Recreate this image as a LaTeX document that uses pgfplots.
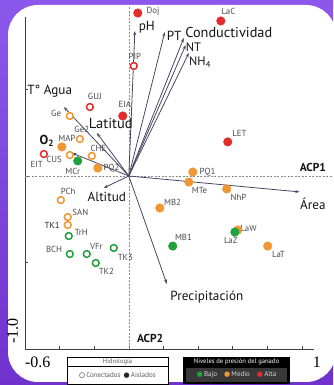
\documentclass[border=0pt]{standalone}
\usepackage{pgfplots}
\pgfplotsset{compat=1.18}
\usetikzlibrary{arrows.meta}
\usepackage{fontspec}
\setmainfont{PT Sans}
\newfontfamily\numfont{Liberation Serif}
\newfontfamily\symfont{DejaVu Sans}

\definecolor{gBajo}{RGB}{34,160,60}
\definecolor{gMedio}{RGB}{240,150,50}
\definecolor{gAlta}{RGB}{225,45,45}
\definecolor{vecc}{RGB}{75,70,100}
\definecolor{bgtop}{RGB}{140,88,235}
\definecolor{bgbot}{RGB}{112,50,205}
\definecolor{lblc}{RGB}{75,75,75}

\tikzset{
  vec/.style={vecc, line width=0.8pt, -{Stealth[length=4.5pt,width=3pt]}},
  pt label/.style={font=\fontsize{8.8}{9}\selectfont, text=lblc, inner sep=0pt},
  var label/.style={font=\fontsize{13.2}{14}\selectfont, text=black!92, inner sep=0pt},
}

\begin{document}
\begin{tikzpicture}
\useasboundingbox (0,0) rectangle (333pt,385pt);
\shade[top color=bgtop, bottom color=bgbot] (0,0) rectangle (333pt,385pt);
\fill[white, rounded corners=30pt] (8pt,3pt) rectangle (336pt,380pt);

\begin{axis}[
  at={(25pt,36pt)}, anchor=south west,
  x=173pt, y=173pt,
  xmin=-0.6, xmax=1.07, ymin=-1, ymax=0.92,
  axis x line*=bottom, axis y line*=left,
  xtick={-0.6,-0.4,-0.2,0,0.2,0.4,0.6,0.8,1.0},
  ytick={-1,-0.5,0,0.5},
  xticklabels={}, yticklabels={},
  tick align=inside, major tick length=3pt,
  axis line style={black!75, line width=0.6pt},
  tick style={black!75, line width=0.5pt},
  clip=false,
]
% zero reference lines
\draw[black!45, dash pattern=on 2pt off 1.5pt, line width=0.5pt] (axis cs:-0.6,0) -- (axis cs:1.18,0);
\draw[black!45, dash pattern=on 2pt off 1.5pt, line width=0.5pt] (axis cs:0,-1) -- (axis cs:0,0.98);

% variable loadings
\addplot[vec] coordinates {(0,0) (0.035,0.838)};   % pH
\addplot[vec] coordinates {(0,0) (0.208,0.832)};   % PT
\addplot[vec] coordinates {(0,0) (0.318,0.798)};   % Conductividad
\addplot[vec] coordinates {(0,0) (0.329,0.757)};   % NT
\addplot[vec] coordinates {(0,0) (0.347,0.711)};   % NH4
\addplot[vec] coordinates {(0,0) (-0.376,0.399)};  % T Agua
\addplot[vec] coordinates {(0,0) (-0.185,0.249)};  % Latitud
\addplot[vec] coordinates {(0,0) (-0.329,0.133)};  % O2
\addplot[vec] coordinates {(0,0) (-0.145,-0.069)}; % Altitud
\addplot[vec] coordinates {(0,0) (0.988,-0.092)};  % Area
\addplot[vec] coordinates {(0,0) (0.220,-0.624)};  % Precipitacion

% sites: open = connected, filled = isolated
\addplot[only marks, mark=*, mark size=3.4pt, mark options={draw=gAlta, fill=white, line width=1.5pt}]
  coordinates {(0.029,0.636) (-0.225,0.399) (-0.491,0.127)};
\addplot[only marks, mark=*, mark size=3.4pt, mark options={draw=gMedio, fill=white, line width=1.5pt}]
  coordinates {(-0.341,0.347) (-0.283,0.214) (-0.341,0.121) (-0.214,0.116) (-0.393,-0.139) (-0.353,-0.237) (-0.353,-0.283)};
\addplot[only marks, mark=*, mark size=3.4pt, mark options={draw=gBajo, fill=white, line width=1.5pt}]
  coordinates {(-0.347,-0.347) (-0.341,-0.451) (-0.243,-0.451) (-0.087,-0.416) (-0.191,-0.503)};
\addplot[only marks, mark=*, mark size=4.3pt, mark options={draw=gAlta, fill=gAlta}]
  coordinates {(0.052,0.942) (-0.035,0.347) (0.532,0.896) (0.572,0.197)};
\addplot[only marks, mark=*, mark size=4.3pt, mark options={draw=gMedio, fill=gMedio}]
  coordinates {(-0.387,0.168) (-0.179,0.046) (0.370,0.023) (0.347,-0.035) (0.566,-0.075) (0.179,-0.185) (0.630,-0.312) (0.803,-0.405)};
\addplot[only marks, mark=*, mark size=4.3pt, mark options={draw=gBajo, fill=gBajo}]
  coordinates {(-0.295,0.087) (0.613,-0.324) (0.254,-0.405)};

% site labels
\node[pt label] at (axis cs:0.140,0.954) {Doj};
\node[pt label] at (axis cs:0.035,0.690) {PIP};
\node[pt label] at (axis cs:-0.197,0.460) {GUJ};
\node[pt label] at (axis cs:-0.023,0.412) {EIA};
\node[pt label] at (axis cs:-0.420,0.364) {Ge};
\node[pt label] at (axis cs:-0.272,0.268) {Ge2};
\node[pt label] at (axis cs:-0.358,0.216) {MAP};
\node[pt label] at (axis cs:-0.532,0.066) {EIT};
\node[pt label] at (axis cs:-0.432,0.098) {CUS};
\node[pt label] at (axis cs:-0.324,0.027) {MCr};
\node[pt label] at (axis cs:-0.176,0.158) {CHE};
\node[pt label] at (axis cs:-0.100,0.046) {PQ2};
\node[pt label] at (axis cs:0.576,0.950) {LaC};
\node[pt label] at (axis cs:0.640,0.245) {LET};
\node[pt label] at (axis cs:0.455,0.023) {PQ1};
\node[pt label] at (axis cs:0.408,-0.083) {MTe};
\node[pt label] at (axis cs:0.634,-0.123) {NhP};
\node[pt label] at (axis cs:0.253,-0.150) {MB2};
\node[pt label] at (axis cs:0.692,-0.301) {LaW};
\node[pt label] at (axis cs:0.590,-0.372) {LaZ};
\node[pt label] at (axis cs:0.316,-0.353) {MB1};
\node[pt label] at (axis cs:0.865,-0.453) {LaT};
\node[pt label] at (axis cs:-0.350,-0.092) {PCh};
\node[pt label] at (axis cs:-0.280,-0.208) {SAN};
\node[pt label, text=black!85] at (axis cs:-0.443,-0.283) {TK1};
\node[pt label] at (axis cs:-0.274,-0.329) {TrH};
\node[pt label] at (axis cs:-0.432,-0.422) {BCH};
\node[pt label] at (axis cs:-0.188,-0.405) {VFr};
\node[pt label] at (axis cs:-0.020,-0.470) {TK3};
\node[pt label] at (axis cs:-0.130,-0.551) {TK2};

% variable labels
\node[var label] at (axis cs:0.104,0.861) {pH};
\node[var label] at (axis cs:0.262,0.809) {PT};
\node[var label, font=\fontsize{14.3}{15}\selectfont] at (axis cs:0.578,0.827) {Conductividad};
\node[var label, font=\fontsize{12.3}{13}\selectfont] at (axis cs:0.374,0.742) {NT};
\node[var label, font=\fontsize{12.3}{13}\selectfont] at (axis cs:0.412,0.656) {NH\textsubscript{4}};
\node[var label] at (axis cs:-0.457,0.491) {T° Agua};
\node[var label, font=\fontsize{14.5}{15}\selectfont] at (axis cs:-0.104,0.301) {Latitud};
\node[var label, font=\bfseries\fontsize{13}{14}\selectfont] at (axis cs:-0.474,0.202) {O\textsubscript{2}};
\node[var label] at (axis cs:-0.127,-0.121) {Altitud};
\node[var label] at (axis cs:1.064,-0.162) {Área};
\node[var label] at (axis cs:0.451,-0.699) {Precipitación};
\node[var label, font=\bfseries\fontsize{11.5}{12}\selectfont] at (axis cs:1.064,0.052) {ACP1};
\node[var label, font=\bfseries\fontsize{11.5}{12}\selectfont] at (axis cs:0.123,-0.942) {ACP2};

% tick labels
\node[font=\numfont\fontsize{16}{17}\selectfont, inner sep=0pt] at (axis cs:-0.526,-1.075) {-0.6};
\node[font=\numfont\fontsize{16}{17}\selectfont, inner sep=0pt] at (axis cs:1.087,-1.075) {1};
\node[font=\numfont\fontsize{16}{17}\selectfont, inner sep=0pt, rotate=90] at (axis cs:-0.671,-0.896) {-1.0};
\end{axis}

% legend: hydrology
\draw[black, line width=0.5pt, fill=white] (67pt,1pt) rectangle (168pt,28pt);
\draw[black, line width=0.4pt] (67pt,19pt) -- (168pt,19pt);
\node[font=\fontsize{6.5}{7}\selectfont, text=black!65, inner sep=0pt] at (117.5pt,23.5pt) {Hidrología};
\node[font=\fontsize{7}{8}\selectfont, text=black!65, inner sep=0pt] at (117.5pt,10pt)
  {{\symfont\bfseries\color{black}○}\,Conectados\, {\symfont\color{black!85}●}\,Aislados};

% legend: livestock pressure
\fill[black] (183pt,1pt) rectangle (290pt,28pt);
\fill[black!78] (186pt,3pt) rectangle (287pt,17pt);
\node[font=\fontsize{6.6}{7}\selectfont, text=white, inner sep=0pt] at (236.5pt,23pt) {Niveles de presión del ganado};
\node[font=\fontsize{7}{8}\selectfont, text=white!85!black, inner sep=0pt] at (236.5pt,10pt)
  {{\symfont\color{gBajo}●}\,Bajo\quad{\symfont\color{gMedio}●}\,Medio\quad{\symfont\color{gAlta}●}\,Alta};
\end{tikzpicture}
\end{document}
